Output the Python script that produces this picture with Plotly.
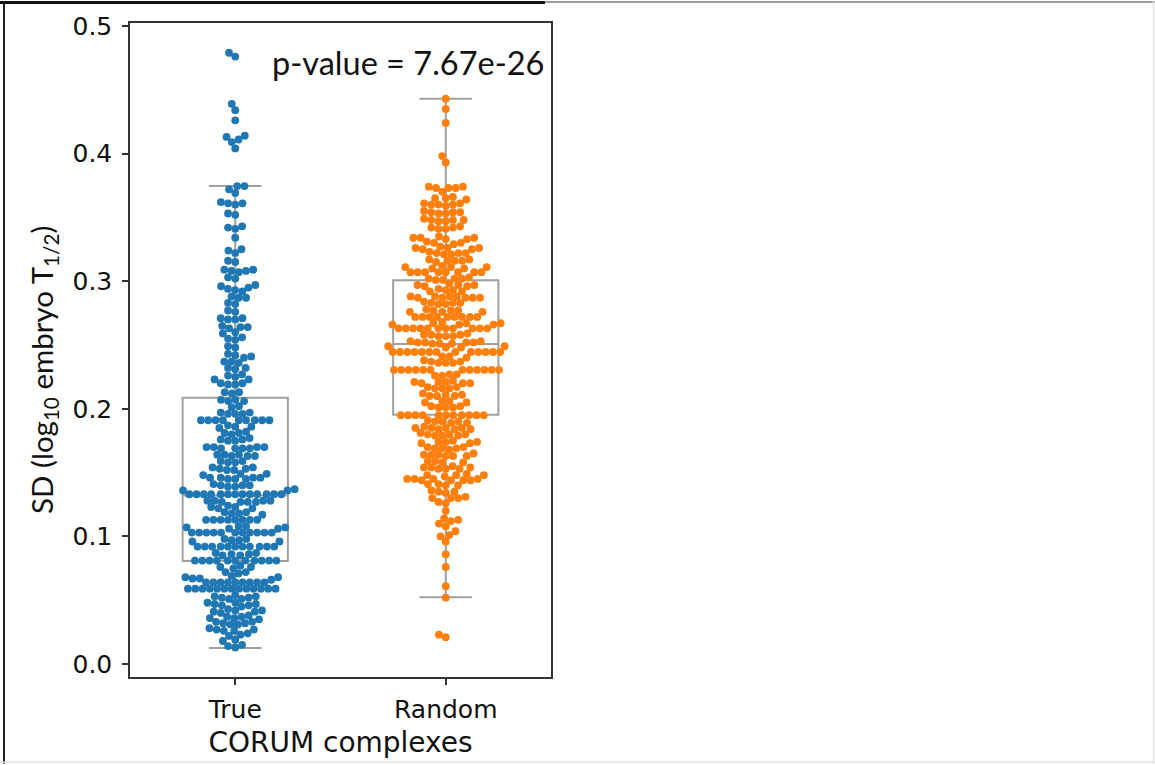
import numpy as np
import plotly.graph_objects as go

# ---- data -------------------------------------------------------------
categories = ["True", "Random"]

true_sd = [
    0.479, 0.476,
    0.439, 0.434, 0.426, 0.414, 0.413, 0.411, 0.409, 0.404,
    0.3745, 0.3745, 0.372, 0.369,
    0.362, 0.361, 0.361, 0.360,
    0.353, 0.352,
    0.343, 0.342, 0.341,
    0.334,
    0.325, 0.324, 0.322,
    0.316, 0.315,
    0.309, 0.309, 0.308, 0.308, 0.307,
    0.303, 0.302,
    0.297, 0.296, 0.295, 0.294, 0.293, 0.292,
    0.288, 0.287, 0.287,
    0.283, 0.282,
    0.277, 0.276,
    0.271, 0.271, 0.270, 0.270,
    0.265, 0.264, 0.264, 0.263,
    0.260, 0.259,
    0.256, 0.255, 0.254,
    0.249, 0.248,
    0.243, 0.242, 0.241, 0.240,
    0.237, 0.237, 0.236,
    0.232, 0.232, 0.231,
    0.227, 0.226, 0.225,
    0.223, 0.223,
    0.220, 0.220, 0.219, 0.219,
    0.213, 0.213, 0.212,
    0.207, 0.207, 0.206, 0.206,
    0.202, 0.201,
    0.197, 0.197, 0.196, 0.196, 0.196,
    0.191, 0.191, 0.191, 0.191, 0.191, 0.191, 0.191, 0.191, 0.191,
    0.187, 0.186, 0.186, 0.185,
    0.182, 0.181, 0.181, 0.180,
    0.177, 0.176, 0.176, 0.175, 0.175,
    0.170, 0.170, 0.170, 0.170, 0.169, 0.169, 0.169, 0.169,
    0.164, 0.164, 0.164, 0.163, 0.163, 0.163,
    0.159, 0.159, 0.158, 0.158,
    0.154, 0.154, 0.153, 0.153, 0.152, 0.152,
    0.149, 0.149, 0.148,
    0.146, 0.146, 0.146, 0.146, 0.145, 0.145, 0.145,
    0.141, 0.140, 0.140, 0.140, 0.139, 0.139,
    0.137, 0.136, 0.136,
    0.133, 0.133, 0.133, 0.133, 0.133, 0.133, 0.133,
    0.133, 0.133, 0.133, 0.133, 0.133, 0.133,
    0.128, 0.128, 0.128, 0.128, 0.127, 0.127, 0.127, 0.127,
    0.124, 0.123, 0.123, 0.122, 0.122,
    0.119, 0.119, 0.118, 0.118, 0.117,
    0.113, 0.113, 0.113, 0.113, 0.113, 0.113, 0.113, 0.113,
    0.108, 0.108, 0.107, 0.107, 0.106, 0.106,
    0.103, 0.103, 0.103, 0.103, 0.103, 0.103,
    0.103, 0.103, 0.103, 0.103, 0.103,
    0.098, 0.098, 0.097, 0.097, 0.096, 0.096,
    0.092, 0.092, 0.092, 0.092, 0.092, 0.092,
    0.092, 0.092, 0.092, 0.092, 0.092,
    0.087, 0.087, 0.086, 0.086, 0.085, 0.085,
    0.081, 0.081, 0.081, 0.081, 0.081, 0.081,
    0.081, 0.081, 0.081, 0.081, 0.081,
    0.077, 0.076, 0.076, 0.075,
    0.072, 0.072, 0.071,
    0.069, 0.068, 0.068, 0.067, 0.067, 0.066,
    0.064, 0.064, 0.064, 0.064, 0.064, 0.064, 0.064, 0.064, 0.064,
    0.059, 0.059, 0.059, 0.059, 0.059, 0.059, 0.059,
    0.059, 0.059, 0.059, 0.059, 0.059, 0.059,
    0.054, 0.053, 0.053, 0.052, 0.052, 0.051, 0.051,
    0.048, 0.048, 0.047, 0.047, 0.046, 0.046, 0.045,
    0.043, 0.042, 0.042, 0.041, 0.041, 0.040,
    0.038, 0.037, 0.037, 0.036, 0.036, 0.035,
    0.033, 0.033, 0.032, 0.032, 0.031, 0.031,
    0.028, 0.027, 0.027, 0.026, 0.026,
    0.024, 0.023, 0.022,
    0.019, 0.018,
    0.015, 0.014,
    0.013,
]

random_sd = [
    0.443, 0.435, 0.424, 0.398, 0.393,
    0.374, 0.374, 0.373, 0.373, 0.373,
    0.370,
    0.366, 0.365, 0.365, 0.364,
    0.361, 0.361, 0.360, 0.360, 0.360, 0.359,
    0.355, 0.354, 0.354, 0.354, 0.353, 0.353,
    0.349, 0.348, 0.348, 0.348, 0.347, 0.347,
    0.343, 0.342, 0.342, 0.341, 0.341,
    0.335, 0.334, 0.334, 0.334, 0.333, 0.333,
    0.331, 0.330, 0.330, 0.329,
    0.327, 0.326, 0.326, 0.326, 0.325, 0.325,
    0.323, 0.322, 0.322, 0.322, 0.321, 0.321,
    0.317, 0.317, 0.316, 0.316, 0.316, 0.315,
    0.312, 0.311, 0.311, 0.311, 0.310, 0.310,
    0.307, 0.307, 0.307, 0.307, 0.307, 0.307, 0.307, 0.307,
    0.303, 0.302, 0.302, 0.302, 0.301, 0.301,
    0.298, 0.297, 0.297, 0.297, 0.296, 0.296,
    0.294, 0.293, 0.293, 0.292, 0.292,
    0.288, 0.288, 0.288, 0.288, 0.287, 0.287, 0.287, 0.287, 0.287,
    0.284, 0.283, 0.283, 0.283, 0.282, 0.282,
    0.278, 0.277, 0.277, 0.277, 0.276, 0.276, 0.276,
    0.272, 0.272, 0.272, 0.272, 0.272, 0.272, 0.272, 0.272, 0.272,
    0.268, 0.267, 0.267, 0.267, 0.266, 0.266, 0.266,
    0.263, 0.263, 0.263, 0.263, 0.263, 0.263,
    0.263, 0.263, 0.263, 0.263, 0.263,
    0.259, 0.258, 0.258, 0.258, 0.257, 0.257, 0.257,
    0.253, 0.253, 0.252, 0.252, 0.252, 0.252, 0.251, 0.251, 0.251,
    0.249, 0.249, 0.248, 0.248,
    0.2445, 0.2445, 0.2445, 0.2445, 0.2445, 0.2445, 0.2445,
    0.2445, 0.2445, 0.2445, 0.2445, 0.2445, 0.2445,
    0.241, 0.241, 0.240,
    0.238, 0.237, 0.237, 0.236, 0.236, 0.236,
    0.2305, 0.2305, 0.2305, 0.2305, 0.2305, 0.2305,
    0.2305, 0.2305, 0.2305, 0.2305, 0.2305, 0.2305,
    0.227, 0.227, 0.226, 0.226,
    0.222, 0.221, 0.221, 0.221, 0.220, 0.220, 0.220,
    0.217, 0.217, 0.216, 0.216, 0.216,
    0.212, 0.211, 0.211, 0.210, 0.210, 0.210,
    0.206, 0.206, 0.205, 0.205,
    0.202, 0.202, 0.201, 0.201, 0.201,
    0.195, 0.195, 0.195, 0.195, 0.195, 0.195,
    0.195, 0.195, 0.195, 0.195, 0.195,
    0.191, 0.190, 0.190, 0.190, 0.189, 0.189,
    0.186, 0.185, 0.185, 0.185, 0.185, 0.184, 0.184, 0.184,
    0.181, 0.180, 0.180, 0.180, 0.179, 0.179, 0.179,
    0.175, 0.174, 0.174, 0.174, 0.173, 0.173,
    0.170, 0.170, 0.169, 0.169, 0.169, 0.168,
    0.165, 0.164, 0.164, 0.164, 0.163, 0.163, 0.163,
    0.159, 0.159, 0.158, 0.158,
    0.155, 0.154, 0.154, 0.154, 0.153, 0.153, 0.153,
    0.149, 0.148, 0.148, 0.148, 0.147,
    0.145, 0.145, 0.145, 0.145, 0.144, 0.144, 0.144, 0.144,
    0.141, 0.141, 0.140, 0.140,
    0.136, 0.135, 0.135, 0.134,
    0.131, 0.130, 0.130, 0.130,
    0.127, 0.126,
    0.120,
    0.114, 0.113, 0.112,
    0.110, 0.108,
    0.104,
    0.101, 0.100,
    0.096,
    0.086,
    0.076,
    0.061,
    0.052,
    0.023, 0.021,
]

# box-plot summaries: lower whisker, Q1, median, Q3, upper whisker
true_box = [0.0125, 0.0807, 0.132, 0.2086, 0.3745]
random_box = [0.0523, 0.1953, 0.2508, 0.3008, 0.443]

p_value_text = "p-value = 7.67e-26"

# ---- geometry -----------------------------------------------------------
W, H = 1155, 765
PLOT_L, PLOT_R, PLOT_T, PLOT_B = 130, 551, 22, 678
Y_RANGE = [-0.0102, 0.5023]
X_RANGE = [-0.5, 1.5]
PX_PER_Y = (PLOT_B - PLOT_T) / (Y_RANGE[1] - Y_RANGE[0])
PX_PER_X = (PLOT_R - PLOT_L) / (X_RANGE[1] - X_RANGE[0])
DOT = 7.8        # drawn marker diameter in px
SPACING = 7.3    # minimum centre distance used by the swarm layout


def beeswarm(values, diameter):
    """Place points so they do not overlap; return x offsets in px."""
    vals = np.asarray(values, dtype=float)
    order = np.argsort(vals, kind="stable")
    ys = vals[order] * PX_PER_Y
    placed_x, placed_y = [], []
    out = np.zeros(len(vals))
    for i, y in zip(order, ys):
        px = np.array(placed_x)
        py = np.array(placed_y)
        if len(px):
            near = np.abs(py - y) < diameter
            nx, ny = px[near], py[near]
        else:
            nx, ny = np.array([]), np.array([])
        cands = [0.0]
        for xx, yy in zip(nx, ny):
            dx = np.sqrt(max(diameter ** 2 - (yy - y) ** 2, 0.0))
            cands += [xx - dx, xx + dx]
        cands = sorted(cands, key=lambda c: (abs(c), c))
        chosen = cands[-1]
        for c in cands:
            if len(nx) == 0 or np.all((nx - c) ** 2 + (ny - y) ** 2 >= diameter ** 2 - 1e-6):
                chosen = c
                break
        placed_x.append(chosen)
        placed_y.append(y)
        out[i] = chosen
    return out


def px_x(p):
    return (p - PLOT_L) / (PLOT_R - PLOT_L)


def px_y(p):
    return (PLOT_B - p) / (PLOT_B - PLOT_T)


box_color = "#a0a0a0"
colors = ["#1f77b4", "#ff7f0e"]

fig = go.Figure()

for pos, stats in enumerate([true_box, random_box]):
    lo, q1, med, q3, hi = stats
    fig.add_trace(go.Box(
        x=[pos], lowerfence=[lo], q1=[q1], median=[med], q3=[q3], upperfence=[hi],
        width=0.5, whiskerwidth=0.5, fillcolor="rgba(0,0,0,0)",
        line=dict(color=box_color, width=2), boxpoints=False,
        hoverinfo="skip", showlegend=False,
    ))

for pos, (vals, col) in enumerate(zip([true_sd, random_sd], colors)):
    offs = beeswarm(vals, SPACING)
    fig.add_trace(go.Scatter(
        x=pos + offs / PX_PER_X, y=vals, mode="markers",
        marker=dict(color=col, size=DOT, line=dict(width=0)),
        showlegend=False, cliponaxis=False,
    ))

text_color = "#111111"

fig.update_xaxes(
    range=X_RANGE, tickvals=[0, 1], ticktext=categories,
    showline=True, mirror=True, linecolor="#333333", linewidth=1.5,
    ticks="outside", ticklen=6, tickwidth=1.5, tickcolor="#333333",
    showgrid=False, zeroline=False,
    tickfont=dict(family="DejaVu Sans", size=25, color=text_color),
    ticklabelstandoff=3,
    title=dict(text="CORUM complexes",
               font=dict(family="DejaVu Sans", size=28, color=text_color),
               standoff=10),
)
fig.update_yaxes(
    range=Y_RANGE, tickvals=[0.0, 0.1, 0.2, 0.3, 0.4, 0.5],
    ticktext=["0.0", "0.1", "0.2", "0.3", "0.4", "0.5"],
    showline=True, mirror=True, linecolor="#333333", linewidth=1.5,
    ticks="outside", ticklen=6, tickwidth=1.5, tickcolor="#333333",
    showgrid=False, zeroline=False,
    tickfont=dict(family="DejaVu Sans", size=25, color=text_color),
    ticklabelstandoff=5,
)

fig.add_annotation(
    x=px_x(44), y=px_y(370), xref="paper", yref="paper",
    text="SD (log<sub>10</sub> embryo T<sub>1/2</sub>)", textangle=-90,
    showarrow=False, font=dict(family="Lato", size=29.5, color=text_color),
    xanchor="center", yanchor="middle",
)
fig.add_annotation(
    x=px_x(546), y=px_y(62), xref="paper", yref="paper",
    text=p_value_text, showarrow=False,
    font=dict(family="Lato", size=32.5, color=text_color),
    xanchor="right", yanchor="middle",
)

# outer frame of the panel
frame = [
    (0, 1.5, 545, 1.5, "#111111", 3),
    (545, 1.0, 1155, 1.0, "#9a9a9a", 2),
    (4, 0, 4, 765, "#222222", 2),
    (0, 763.5, 1155, 763.5, "#e4e4e4", 1.5),
    (1153.5, 0, 1153.5, 765, "#e4e4e4", 1.5),
]
for x0, y0, x1, y1, c, w in frame:
    fig.add_shape(type="line", xref="paper", yref="paper",
                  x0=px_x(x0), y0=px_y(y0), x1=px_x(x1), y1=px_y(y1),
                  line=dict(color=c, width=w), layer="above")

fig.update_layout(
    width=W, height=H,
    margin=dict(l=PLOT_L, r=W - PLOT_R, t=PLOT_T, b=H - PLOT_B),
    paper_bgcolor="white", plot_bgcolor="white",
    showlegend=False,
)

fig.write_html("out.html")
